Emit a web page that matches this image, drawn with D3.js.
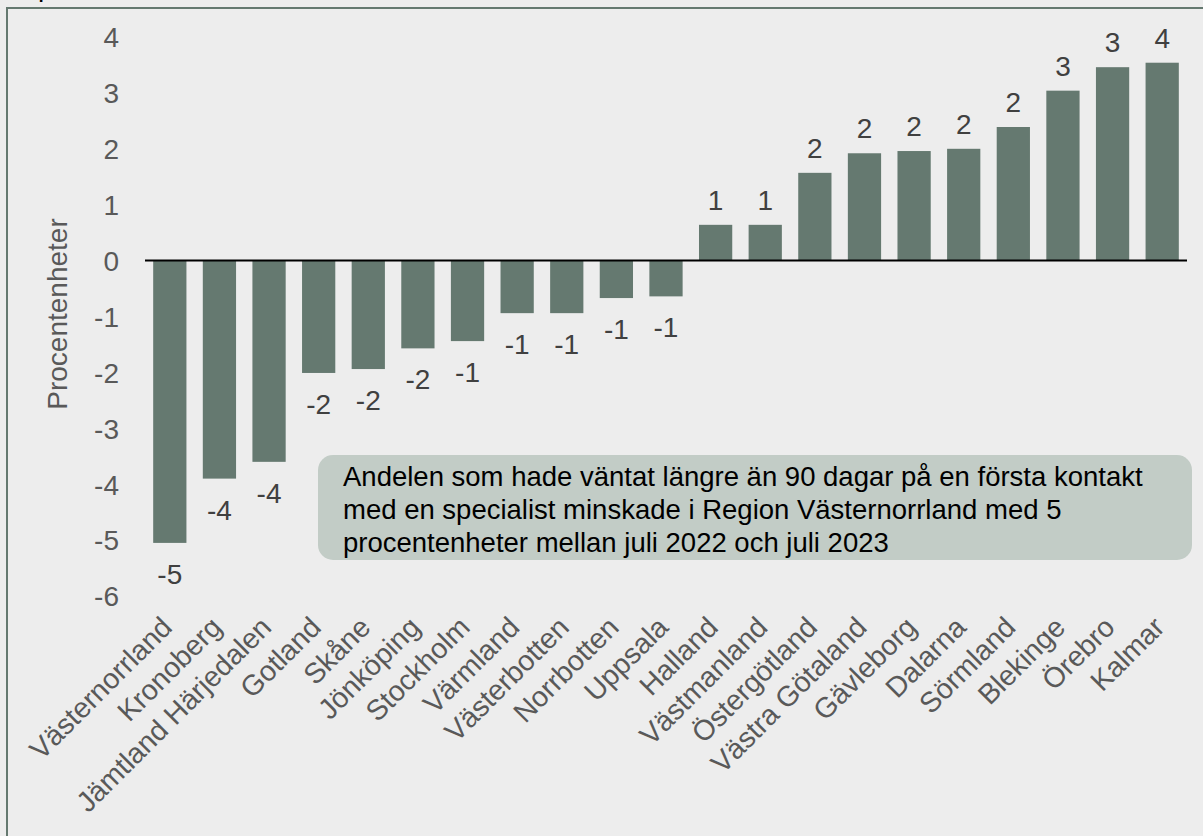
<!DOCTYPE html>
<html>
<head>
<meta charset="utf-8">
<script src="https://cdn.jsdelivr.net/npm/d3@7"></script>
<style>
  html, body { margin: 0; padding: 0; background: #ededed; }
  svg { display: block; font-family: "Liberation Sans", Arial, sans-serif; }
</style>
</head>
<body>
<svg id="chart" width="1203" height="836"></svg>
<script>
// ---- data ----
const regions = ["Västernorrland","Kronoberg","Jämtland Härjedalen","Gotland","Skåne","Jönköping","Stockholm","Värmland","Västerbotten","Norrbotten","Uppsala","Halland","Västmanland","Östergötland","Västra Götaland","Gävleborg","Dalarna","Sörmland","Blekinge","Örebro","Kalmar"];
const change = [-5.05,-3.9,-3.6,-2.01,-1.94,-1.57,-1.44,-0.94,-0.94,-0.67,-0.64,0.64,0.64,1.57,1.92,1.96,2.0,2.39,3.04,3.46,3.54];
const yTicks = [-6,-5,-4,-3,-2,-1,0,1,2,3,4];
const yTitle = "Procentenheter";
const noteLines = [
  "Andelen som hade väntat längre än 90 dagar på en första kontakt",
  "med en specialist minskade i Region Västernorrland med 5",
  "procentenheter mellan juli 2022 och juli 2023"
];

const fmt = v => String(Math.round(v)); // plain hyphen-minus as in the reference

const svg = d3.select("#chart");
const barColor = "#657970";

// frame
svg.append("rect").attr("x", 7).attr("y", 8).attr("width", 1230).attr("height", 860)
  .attr("fill", "none").attr("stroke", "#657970").attr("stroke-width", 2);
// clipped title descender
svg.append("text").attr("x", 38).attr("y", -4).attr("font-size", 28).attr("fill", "#000").text("p");

const x = d3.scaleBand().domain(regions).range([145, 1187]).paddingInner(0.33).paddingOuter(0.165);
const y = d3.scaleLinear().domain([-6, 4]).range([596, 37]);

// y tick labels
const yAxis = d3.axisLeft(y).tickValues(yTicks).tickSize(0).tickPadding(0).tickFormat(fmt);
const gy = svg.append("g").attr("transform", "translate(119,0)").call(yAxis);
gy.select(".domain").remove();
gy.selectAll("text").attr("font-size", 28).attr("fill", "#595959")
  .attr("font-family", "Liberation Sans, Arial, sans-serif").attr("dy", "0.35em");

// y title
svg.append("text").attr("transform", "translate(67,314) rotate(-90)")
  .attr("text-anchor", "middle").attr("font-size", 28).attr("fill", "#595959").text(yTitle);

// bars
svg.append("g").selectAll("rect").data(regions).join("rect")
  .attr("x", d => x(d))
  .attr("width", x.bandwidth())
  .attr("y", (d, i) => Math.min(y(0), y(change[i])))
  .attr("height", (d, i) => Math.abs(y(change[i]) - y(0)))
  .attr("fill", barColor);

// zero line
svg.append("line").attr("x1", 145).attr("x2", 1187).attr("y1", y(0)).attr("y2", y(0))
  .attr("stroke", "#000").attr("stroke-width", 2);

// data labels
svg.append("g").selectAll("text").data(regions).join("text")
  .attr("x", d => x(d) + x.bandwidth() / 2)
  .attr("y", (d, i) => change[i] < 0 ? y(change[i]) + 41 : y(change[i]) - 15)
  .attr("text-anchor", "middle").attr("font-size", 28).attr("fill", "#404040")
  .text((d, i) => fmt(change[i]));

// category labels
const xAxis = d3.axisBottom(x).tickSize(0).tickPadding(0);
const gx = svg.append("g").call(xAxis);
gx.select(".domain").remove();
gx.selectAll("text")
  .attr("font-size", 28.5).attr("fill", "#595959")
  .attr("font-family", "Liberation Sans, Arial, sans-serif")
  .attr("text-anchor", "end").attr("x", 0).attr("y", 0).attr("dy", 0)
  .attr("transform", "translate(4,629) rotate(-45)");

// annotation box
svg.append("rect").attr("x", 318).attr("y", 455).attr("width", 874).attr("height", 105)
  .attr("rx", 15).attr("ry", 15).attr("fill", "#c2ccc6");
svg.append("g").selectAll("text").data(noteLines).join("text")
  .attr("x", 343).attr("y", (d, i) => 485.5 + i * 33)
  .attr("font-size", 27.5).attr("fill", "#000").text(d => d);
</script>
</body>
</html>
